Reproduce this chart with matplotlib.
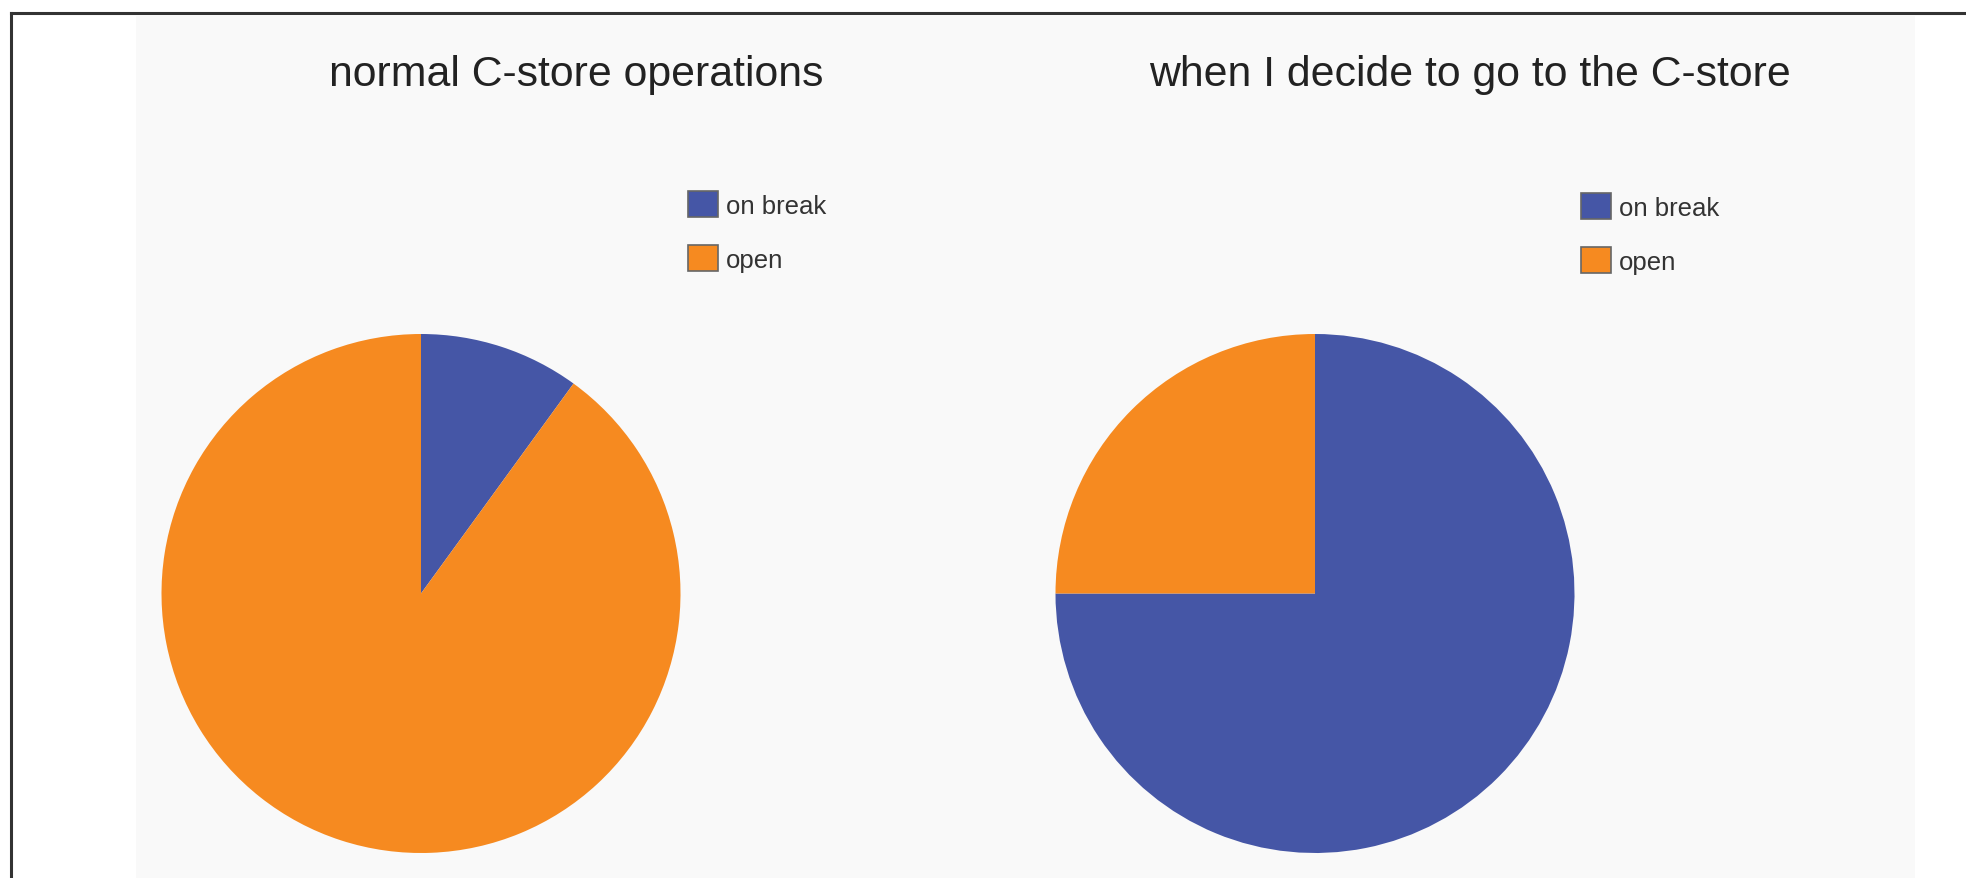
# Two pie charts about C-store opening hours

import matplotlib.pyplot as plt
from matplotlib.patches import Rectangle
from matplotlib.lines import Line2D

W, H = 1966, 879

labels = ['on break', 'open']
normal_values = [10, 90]
my_visit_values = [75, 25]
titles = ['normal C-store operations', 'when I decide to go to the C-store']

colors = ['#4556A6', '#F68A20']


def px_x(x):
    return x / W


def px_y(y):
    # pixel rows are counted from the top
    return 1 - y / H


def draw_pie(fig, values, title, cx, cy, r, legend_x, legend_y):
    ax = fig.add_axes([px_x(cx - r), px_y(cy + r), 2 * r / W, 2 * r / H])
    ax.set_zorder(2)
    wedges, _ = ax.pie(values, colors=colors, startangle=90, counterclock=False,
                       radius=1, wedgeprops=dict(linewidth=0))
    ax.set_xlim(-1, 1)
    ax.set_ylim(-1, 1)
    ax.set_aspect('auto')
    ax.axis('off')

    fig.text(px_x(cx + 155), px_y(86), title, ha='center', va='baseline',
             fontsize=30.8, color='#222222')

    leg = fig.legend(wedges, labels, loc='upper left',
                     bbox_to_anchor=(px_x(legend_x), px_y(legend_y)),
                     frameon=False, fontsize=18.5, borderpad=0, borderaxespad=0,
                     handlelength=1.17, handleheight=1.17, handletextpad=0.3,
                     labelspacing=1.07)
    leg.set_zorder(3)
    for patch in leg.get_patches():
        patch.set_edgecolor('#666666')
        patch.set_linewidth(1.2)
    for text in leg.get_texts():
        text.set_color('#333333')


def main():
    plt.rcParams['font.family'] = ['Liberation Sans', 'DejaVu Sans']
    fig = plt.figure(figsize=(W / 100, H / 100), dpi=100)
    fig.patch.set_facecolor('white')

    # light gray chart area
    fig.patches.append(Rectangle((px_x(136), 0), (1915 - 136) / W, px_y(17),
                                 transform=fig.transFigure, facecolor='#F9F9F9',
                                 edgecolor='none', zorder=-1))

    # frame on top and left
    fig.lines.append(Line2D([px_x(11), 1], [px_y(14), px_y(14)], transform=fig.transFigure,
                            color='#333333', linewidth=2.2))
    fig.lines.append(Line2D([px_x(11), px_x(11)], [0, px_y(14)], transform=fig.transFigure,
                            color='#333333', linewidth=2.2))

    draw_pie(fig, normal_values, titles[0], 421, 594.5, 259.5, 688, 192)
    draw_pie(fig, my_visit_values, titles[1], 1315, 594.5, 259.5, 1581, 194)

    fig.savefig('out.png', dpi=100)


if __name__ == '__main__':
    main()
